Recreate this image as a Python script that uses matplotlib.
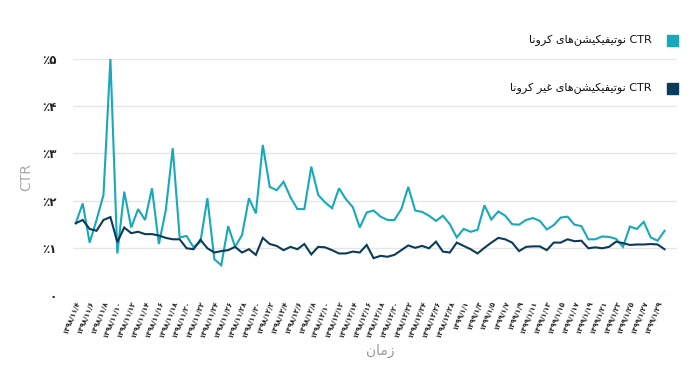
import matplotlib
matplotlib.use("Agg")
import matplotlib.pyplot as plt
from matplotlib.patches import Rectangle

# ---------------- data ----------------
corona_ctr = [1.52, 1.94, 1.11, 1.59, 2.12, 5.00, 0.88, 2.19, 1.43, 1.82,
              1.59, 2.26, 1.08, 1.80, 3.11, 1.22, 1.25, 1.01, 1.13, 2.05,
              0.76, 0.63, 1.46, 1.02, 1.27, 2.05, 1.73, 3.18, 2.29, 2.22,
              2.40, 2.07, 1.82, 1.82, 2.72, 2.12, 1.96, 1.84, 2.26, 2.03,
              1.86, 1.43, 1.75, 1.79, 1.66, 1.59, 1.59, 1.82, 2.29, 1.79,
              1.76, 1.68, 1.57, 1.68, 1.50, 1.22, 1.40, 1.34, 1.38, 1.90,
              1.60, 1.77, 1.68, 1.50, 1.49, 1.59, 1.63, 1.57, 1.39, 1.48,
              1.64, 1.66, 1.49, 1.46, 1.18, 1.18, 1.24, 1.23, 1.19, 1.02,
              1.45, 1.40, 1.55, 1.22, 1.15, 1.36]
non_corona_ctr = [1.52, 1.59, 1.40, 1.36, 1.59, 1.65, 1.12, 1.43, 1.31, 1.34,
                  1.29, 1.29, 1.26, 1.21, 1.18, 1.18, 0.99, 0.97, 1.17, 0.99,
                  0.90, 0.93, 0.95, 1.02, 0.90, 0.97, 0.85, 1.21, 1.08, 1.04,
                  0.95, 1.02, 0.97, 1.08, 0.86, 1.02, 1.01, 0.95, 0.88, 0.88,
                  0.92, 0.90, 1.06, 0.78, 0.83, 0.81, 0.85, 0.95, 1.05, 1.00,
                  1.04, 0.99, 1.13, 0.92, 0.90, 1.11, 1.04, 0.97, 0.88, 1.00,
                  1.11, 1.21, 1.18, 1.11, 0.93, 1.02, 1.03, 1.03, 0.95, 1.11,
                  1.11, 1.18, 1.14, 1.15, 0.99, 1.01, 0.99, 1.02, 1.13, 1.10,
                  1.06, 1.07, 1.07, 1.08, 1.07, 0.97]

date_labels = [
    "۱۳۹۸/۱۱/۴", "۱۳۹۸/۱۱/۶", "۱۳۹۸/۱۱/۸", "۱۳۹۸/۱۱/۱۰", "۱۳۹۸/۱۱/۱۲",
    "۱۳۹۸/۱۱/۱۴", "۱۳۹۸/۱۱/۱۶", "۱۳۹۸/۱۱/۱۸", "۱۳۹۸/۱۱/۲۰", "۱۳۹۸/۱۱/۲۲",
    "۱۳۹۸/۱۱/۲۴", "۱۳۹۸/۱۱/۲۶", "۱۳۹۸/۱۱/۲۸", "۱۳۹۸/۱۱/۳۰", "۱۳۹۸/۱۲/۲",
    "۱۳۹۸/۱۲/۴", "۱۳۹۸/۱۲/۶", "۱۳۹۸/۱۲/۸", "۱۳۹۸/۱۲/۱۰", "۱۳۹۸/۱۲/۱۲",
    "۱۳۹۸/۱۲/۱۴", "۱۳۹۸/۱۲/۱۶", "۱۳۹۸/۱۲/۱۸", "۱۳۹۸/۱۲/۲۰", "۱۳۹۸/۱۲/۲۲",
    "۱۳۹۸/۱۲/۲۴", "۱۳۹۸/۱۲/۲۶", "۱۳۹۸/۱۲/۲۸", "۱۳۹۹/۱/۱", "۱۳۹۹/۱/۳",
    "۱۳۹۹/۱/۵", "۱۳۹۹/۱/۷", "۱۳۹۹/۱/۹", "۱۳۹۹/۱/۱۱", "۱۳۹۹/۱/۱۳",
    "۱۳۹۹/۱/۱۵", "۱۳۹۹/۱/۱۷", "۱۳۹۹/۱/۱۹", "۱۳۹۹/۱/۲۱", "۱۳۹۹/۱/۲۳",
    "۱۳۹۹/۱/۲۵", "۱۳۹۹/۱/۲۷", "۱۳۹۹/۱/۲۹",
]
y_ticks = [0, 1, 2, 3, 4, 5]
y_tick_labels = ["۰", "٪۱", "٪۲", "٪۳", "٪۴", "٪۵"]
series_names = ["CTR نوتیفیکیشن‌های کرونا", "CTR نوتیفیکیشن‌های غیر کرونا"]
x_title = "زمان"
y_title = "CTR"

# ---------------- minimal Persian shaping ----------------
FORMS = {  # isolated, final, initial, medial
    'ا': ('\uFE8D', '\uFE8E', None, None),
    'ت': ('\uFE95', '\uFE96', '\uFE97', '\uFE98'),
    'ر': ('\uFEAD', '\uFEAE', None, None),
    'ز': ('\uFEAF', '\uFEB0', None, None),
    'ش': ('\uFEB5', '\uFEB6', '\uFEB7', '\uFEB8'),
    'غ': ('\uFECD', '\uFECE', '\uFECF', '\uFED0'),
    'ف': ('\uFED1', '\uFED2', '\uFED3', '\uFED4'),
    'م': ('\uFEE1', '\uFEE2', '\uFEE3', '\uFEE4'),
    'ن': ('\uFEE5', '\uFEE6', '\uFEE7', '\uFEE8'),
    'ه': ('\uFEE9', '\uFEEA', '\uFEEB', '\uFEEC'),
    'و': ('\uFEED', '\uFEEE', None, None),
    'ی': ('\uFBFC', '\uFBFD', '\uFBFE', '\uFBFF'),
    'ک': ('\uFB8E', '\uFB8F', '\uFB90', '\uFB91'),
}


def shape_word(word):
    chars = list(word)
    out = []
    for k, c in enumerate(chars):
        if c not in FORMS:
            if c != '\u200c':
                out.append(c)
            continue
        prev = chars[k - 1] if k > 0 else None
        nxt = chars[k + 1] if k + 1 < len(chars) else None
        jp = prev in FORMS and FORMS[prev][2] is not None
        jn = nxt in FORMS and FORMS[c][2] is not None
        iso, fin, ini, med = FORMS[c]
        if jp and jn:
            out.append(med)
        elif jp:
            out.append(fin)
        elif jn:
            out.append(ini)
        else:
            out.append(iso)
    return ''.join(out)[::-1]


def rtl(text):
    words = text.split(' ')
    vis = []
    for w in reversed(words):
        if any(ch in FORMS for ch in w):
            vis.append(shape_word(w))
        else:
            vis.append(w)
    return ' '.join(vis)


# ---------------- plot ----------------
TEAL = "#17a9bb"
NAVY = "#0b3b5b"

W, H = 697, 373
fig = plt.figure(figsize=(W / 100, H / 100), dpi=100)
ax = fig.add_axes([73 / W, (H - 295) / H, (677 - 73) / W, (295 - 59) / H])

x = list(range(len(corona_ctr)))
ax.plot(x, corona_ctr, color=TEAL, lw=1.5, clip_on=False, zorder=3, solid_joinstyle='miter')
ax.plot(x, non_corona_ctr, color=NAVY, lw=1.5, clip_on=False, zorder=4, solid_joinstyle='miter')

ax.set_xlim(-0.4, len(x) - 1 + 1.8)
ax.set_ylim(0, 5)
ax.set_yticks(y_ticks)
ax.set_yticklabels(y_tick_labels, fontsize=8.5, fontweight='bold', color='#222222')
ax.grid(axis='y', color='#e6e6e6', lw=1)
ax.set_axisbelow(True)
ax.tick_params(axis='both', length=0)
ax.tick_params(axis='y', pad=12)

ax.set_xticks(x[::2])
ax.set_xticklabels(date_labels, rotation=68, fontsize=5, fontweight='bold',
                   ha='right', va='top', rotation_mode='anchor', color='#222222')
ax.tick_params(axis='x', pad=4)

for s in ax.spines.values():
    s.set_visible(False)

ax.set_ylabel(y_title, color='#aaaaaa', fontsize=10, labelpad=6)
fig.text(380 / W, 1 - 351 / H, rtl(x_title), color='#999999', fontsize=10,
         ha='center', va='center')

# legend (manual, right-aligned)
legend_y = [40, 88]
for name, col, yy in zip(series_names, [TEAL, NAVY], legend_y):
    fig.patches.append(Rectangle(((667) / W, 1 - (yy + 6) / H), 11 / W, 11 / H,
                                 transform=fig.transFigure, color=col))
    fig.text(652 / W, 1 - yy / H, rtl(name), fontsize=8, ha='right', va='center',
             color='#111111')

fig.savefig("out.png", dpi=100)
